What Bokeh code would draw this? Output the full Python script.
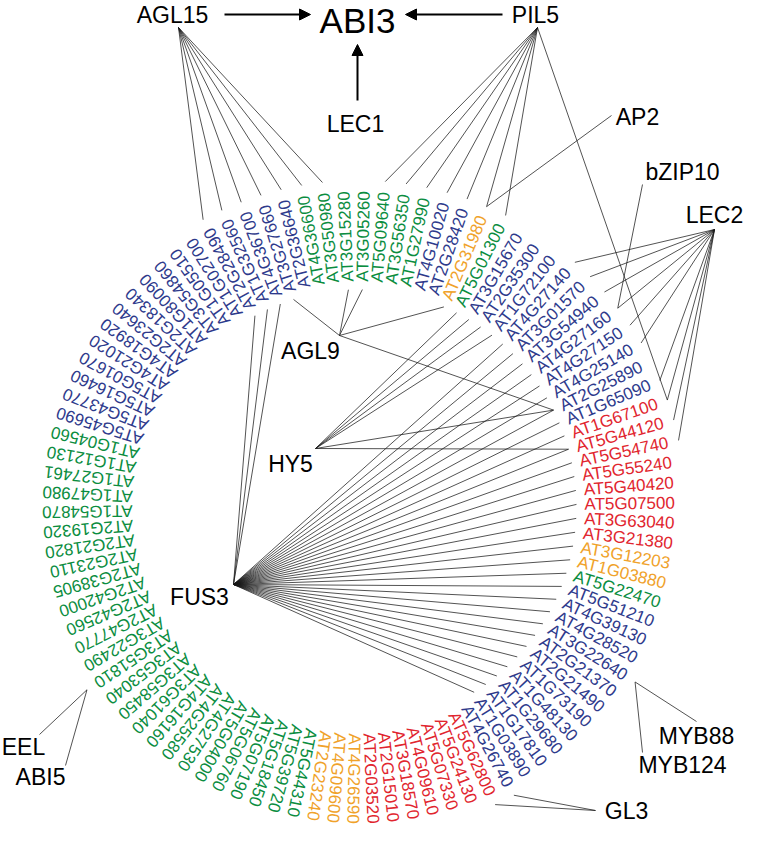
import numpy as np
from bokeh.plotting import figure
from bokeh.models import Range1d, Arrow, NormalHead, ColumnDataSource
from bokeh.embed import file_html
from bokeh.resources import INLINE
from bokeh.core.properties import value

# ---------------- data ----------------
genes = [
    "AT4G36600", "AT3G50980", "AT3G15280", "AT3G05260", "AT5G09640", "AT3G56350",
    "AT1G27990", "AT4G10020", "AT2G28420", "AT2G31980", "AT5G01300", "AT3G15670",
    "AT2G35300", "AT1G72100", "AT4G27140", "AT3G01570", "AT3G54940", "AT4G27160",
    "AT4G27150", "AT4G25140", "AT2G25890", "AT1G65090", "AT1G67100", "AT5G44120",
    "AT5G54740", "AT5G55240", "AT5G40420", "AT5G07500", "AT3G63040", "AT3G21380",
    "AT3G12203", "AT1G03880", "AT5G22470", "AT5G51210", "AT4G39130", "AT4G28520",
    "AT3G22640", "AT2G21370", "AT2G21490", "AT1G73190", "AT1G48130", "AT1G29680",
    "AT1G17810", "AT1G03890", "AT4G26740", "AT5G62800", "AT5G24130", "AT5G07330",
    "AT4G09610", "AT3G18570", "AT2G15010", "AT2G03520", "AT4G26590", "AT4G09600",
    "AT2G23240", "AT5G44310", "AT5G39720", "AT5G18450", "AT5G07190", "AT5G06760",
    "AT5G04000", "AT4G27530", "AT4G25580", "AT4G16160", "AT3G61040", "AT3G58450",
    "AT3G53040", "AT3G51810", "AT3G22490", "AT2G47770", "AT2G42560", "AT2G42000",
    "AT2G38905", "AT2G23110", "AT2G21820", "AT2G19320", "AT1G54870", "AT1G47980",
    "AT1G27461", "AT1G12130", "AT1G04560", "AT5G45690", "AT5G43770", "AT5G16460",
    "AT5G01670", "AT4G21020", "AT4G18920", "AT2G23640", "AT2G18340", "AT1G80090",
    "AT3G54860", "AT1G05510", "AT1G02700", "AT2G28490", "AT1G32560", "AT4G36700",
    "AT3G27660", "AT2G36640",
]
gene_group = (
    ["g"] * 7 + ["b", "b", "o", "g"] + ["b"] * 11 + ["r"] * 8 + ["o", "o", "g"]
    + ["b"] * 12 + ["r"] * 7 + ["o"] * 3 + ["g"] * 26 + ["b"] * 17
)
group_colors = {"b": "#2e3a8c", "g": "#0b8d3f", "r": "#e1252e", "o": "#f0a22a"}

regulators = ["AGL15", "PIL5", "AP2", "bZIP10", "LEC2", "AGL9", "HY5", "FUS3",
              "EEL", "ABI5", "MYB88", "MYB124", "GL3"]
targets = {
    "AGL15": ["AT2G28490", "AT1G32560", "AT4G36700", "AT3G27660", "AT2G36640",
              "AT4G36600", "AT3G50980"],
    "PIL5": ["AT5G09640", "AT3G56350", "AT1G27990", "AT4G10020", "AT2G28420",
             "AT2G31980", "AT5G01300", "AT1G67100"],
    "AP2": ["AT2G31980"],
    "bZIP10": ["AT4G27160"],
    "LEC2": ["AT4G27140", "AT3G01570", "AT3G54940", "AT4G27160", "AT4G27150",
             "AT4G25140", "AT1G65090", "AT1G67100", "AT5G44120", "AT5G54740"],
    "AGL9": ["AT3G27660", "AT3G15280", "AT3G05260", "AT2G31980", "AT2G25890"],
    "HY5": ["AT5G01300", "AT3G15670", "AT2G35300", "AT1G72100", "AT2G25890",
            "AT5G44120"],
    "FUS3": ["AT2G28490", "AT1G32560", "AT4G36700",
             "AT4G27140", "AT3G01570", "AT3G54940", "AT4G27160", "AT4G27150",
             "AT4G25140", "AT2G25890", "AT1G65090", "AT1G67100", "AT5G44120",
             "AT5G54740", "AT5G55240", "AT5G40420", "AT5G07500", "AT3G63040",
             "AT3G21380", "AT3G12203", "AT1G03880", "AT5G22470", "AT5G51210",
             "AT4G39130", "AT4G28520", "AT3G22640", "AT2G21370", "AT2G21490",
             "AT1G73190", "AT1G48130", "AT1G29680", "AT1G17810", "AT1G03890"],
    "EEL": ["AT3G51810"],
    "ABI5": ["AT3G51810"],
    "MYB88": ["AT3G22640"],
    "MYB124": ["AT3G22640"],
    "GL3": ["AT4G26740", "AT5G62800"],
}
inner_regulators = ["AGL9", "HY5", "FUS3"]

# ---------------- layout (reference pixel space, y down) ----------------
H = 842
cx, cy = 366.0, 515.0
r_label = 226.0
r_inner_edge = 218.0
r_outer_edge = 327.0
n = len(genes)
theta = np.radians(-10.0 + 360.0 / n * np.arange(n))
gx = cx + r_label * np.sin(theta)
gy = H - (cy - r_label * np.cos(theta))
gangle = np.pi / 2 - theta

# hub (line-origin) and text positions of regulators
hub = {
    "AGL15": (186, 35), "PIL5": (545, 35), "AP2": (619, 123), "bZIP10": (650, 192),
    "LEC2": (722, 237), "AGL9": (347, 343), "HY5": (323, 456), "FUS3": (241, 592),
    "EEL": (47, 742), "ABI5": (73, 773), "MYB88": (704, 729), "MYB124": (650, 760),
    "GL3": (603, 818),
}
label_pos = {
    "AGL15": (180, 22), "PIL5": (543, 22), "AP2": (645, 124), "bZIP10": (690, 179),
    "LEC2": (722, 222), "AGL9": (318, 358), "HY5": (298, 471), "FUS3": (207, 604),
    "EEL": (31, 754), "ABI5": (48, 784), "MYB88": (704, 743), "MYB124": (690, 772),
    "GL3": (634, 818),
}
top_nodes = ["ABI3", "LEC1"]
top_pos = {"ABI3": (365, 28), "LEC1": (363, 131)}
top_size = {"ABI3": "35px", "LEC1": "23px"}

# ---------------- figure ----------------
W, HH = 744, 826
p = figure(width=W, height=HH, output_backend="svg", toolbar_location=None,
           x_range=Range1d(8, 8 + W), y_range=Range1d(H - 8 - HH, H - 8),
           min_border=0)
p.axis.visible = False
p.grid.visible = False
p.outline_line_color = None
p.background_fill_color = "white"

# edges
x0, y0, x1, y1 = [], [], [], []
gidx = {g: i for i, g in enumerate(genes)}
for tf in regulators:
    hx, hy = hub[tf]
    r = r_inner_edge if tf in inner_regulators else r_outer_edge
    for g in targets[tf]:
        t = theta[gidx[g]]
        x0.append(hx)
        y0.append(H - hy)
        x1.append(cx + r * np.sin(t))
        y1.append(H - (cy - r * np.cos(t)))
p.segment(x0=x0, y0=y0, x1=x1, y1=y1, line_color="#1a1a1a", line_width=0.75)

# gene labels
src = ColumnDataSource(dict(x=gx, y=gy, text=genes, angle=gangle,
                            color=[group_colors[c] for c in gene_group]))
p.text(x="x", y="y", text="text", angle="angle", source=src,
       text_color="color", text_font=value("Liberation Sans"),
       text_font_size="17px", text_align="left", text_baseline="middle")

# regulator labels
p.text(x=[label_pos[t][0] for t in regulators],
       y=[H - label_pos[t][1] for t in regulators],
       text=regulators, text_color="black", text_font=value("Liberation Sans"),
       text_font_size="23px", text_align="center", text_baseline="middle")
for t in top_nodes:
    p.text(x=[top_pos[t][0]], y=[H - top_pos[t][1]], text=[t], text_color="black",
           text_font=value("Liberation Sans"), text_font_size=top_size[t],
           text_align="center", text_baseline="middle")

# arrows into ABI3
arrows = [((232, 22), (318, 22)), ((510, 22), (413, 22)), ((365, 108), (365, 52))]
for (xs, ys), (xe, ye) in arrows:
    p.add_layout(Arrow(end=NormalHead(size=11, fill_color="black", line_color="black"),
                       x_start=xs, y_start=H - ys, x_end=xe, y_end=H - ye,
                       line_width=2, line_color="black"))

open("out.html", "w").write(file_html(p, INLINE))
